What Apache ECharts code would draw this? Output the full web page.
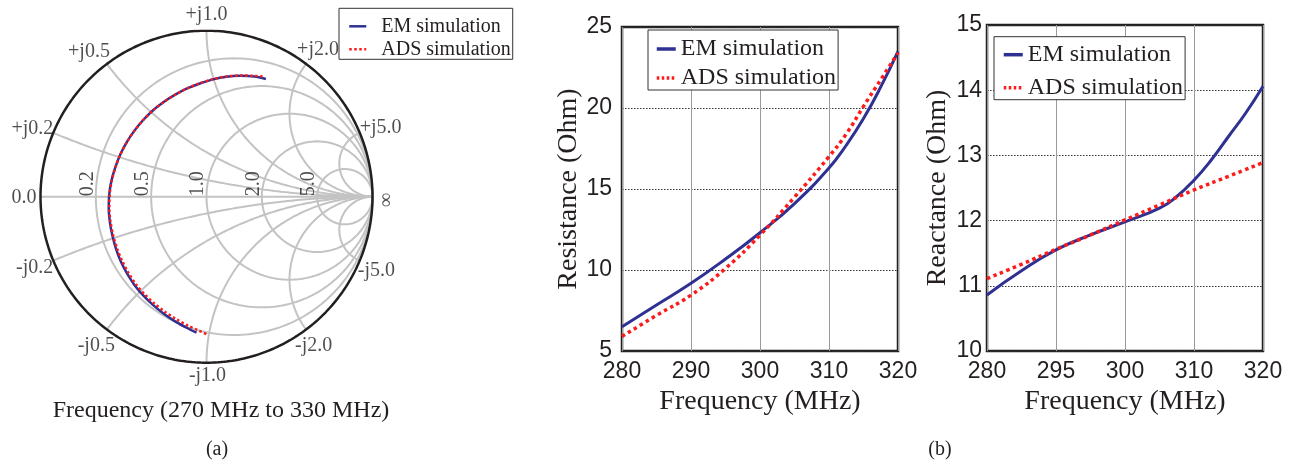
<!DOCTYPE html>
<html><head><meta charset="utf-8">
<script src="https://cdn.jsdelivr.net/npm/echarts@6/dist/echarts.min.js"></script>
<style>html,body{margin:0;padding:0;background:#fff}#c{width:1294px;height:466px}</style>
</head><body><div id="c"></div>
<script>
// ---------- DATA ----------
const seriesNames = ['EM simulation', 'ADS simulation'];

// Smith chart grid values (normalized)
const smithR = [0.2, 0.5, 1.0, 2.0, 5.0];
const smithRLabels = ['0.2', '0.5', '1.0', '2.0', '5.0'];
const smithX = [0.2, 0.5, 1.0, 2.0, 5.0];
const smithXPosLabels = ['+j0.2', '+j0.5', '+j1.0', '+j2.0', '+j5.0'];
const smithXNegLabels = ['-j0.2', '-j0.5', '-j1.0', '-j2.0', '-j5.0'];

const smithEMre = [0.358, 0.287, 0.204, 0.121, 0.039, -0.040, -0.117, -0.191, -0.260, -0.325, -0.384, -0.436, -0.482, -0.520, -0.550,
                   -0.573, -0.586, -0.589, -0.582, -0.567, -0.545, -0.516, -0.478, -0.433, -0.380, -0.321, -0.257, -0.189, -0.117, -0.060];
const smithEMim = [0.709, 0.724, 0.728, 0.723, 0.707, 0.682, 0.652, 0.613, 0.569, 0.518, 0.459, 0.395, 0.326, 0.253, 0.175,
                   0.095, 0.013, -0.070, -0.153, -0.234, -0.314, -0.391, -0.464, -0.533, -0.596, -0.653, -0.705, -0.751, -0.791, -0.819];
const smithADSre = [0.338, 0.288, 0.204, 0.121, 0.039, -0.041, -0.117, -0.191, -0.260, -0.325, -0.384, -0.436, -0.481, -0.520, -0.549,
                    -0.571, -0.583, -0.585, -0.578, -0.562, -0.539, -0.508, -0.470, -0.425, -0.372, -0.313, -0.249, -0.182, -0.111, -0.057, 0.011];
const smithADSim = [0.724, 0.728, 0.730, 0.724, 0.708, 0.683, 0.652, 0.613, 0.569, 0.518, 0.459, 0.395, 0.326, 0.252, 0.175,
                    0.095, 0.013, -0.070, -0.152, -0.233, -0.311, -0.387, -0.459, -0.527, -0.589, -0.644, -0.694, -0.738, -0.777, -0.802, -0.833];

// Resistance (Ohm) vs frequency (MHz)
const resFreq   = [280, 285, 290, 295, 300, 305, 310, 312.5, 315, 317.5, 320];
const resEM     = [6.5, 7.84, 9.18, 10.68, 12.3, 14.1, 16.3, 17.7, 19.35, 21.3, 23.5];
const resADS    = [5.9, 7.2, 8.45, 10.1, 12.15, 14.5, 17.0, 18.4, 20.1, 21.75, 23.4];
const resXTicks = ['280', '290', '300', '310', '320'];

// Reactance (Ohm) vs frequency (MHz)
const reaFreqEM  = [280, 285, 290, 295, 300, 305, 307.5, 310, 312.5, 315, 317.5, 320];
const reaEM      = [10.86, 11.23, 11.55, 11.78, 11.98, 12.19, 12.37, 12.62, 12.93, 13.29, 13.65, 14.06];
const reaFreqADS = [280, 285, 290, 295, 300, 305, 310, 315, 320];
const reaADS     = [11.11, 11.33, 11.56, 11.78, 12.01, 12.24, 12.47, 12.68, 12.89];
const reaXTicks  = ['280', '295', '300', '310', '320'];

// ---------- STYLE ----------
const SERIF = 'Liberation Serif';
const SANS = 'Liberation Sans';
const TXT = '#231f20';
const BLUE = '#2e3192';
const RED = '#ff1a1a';
const GRIDGRAY = '#c3c3c3';

// ---------- HELPERS ----------
function arc(cx, cy, rad, a0, a1, n) {
  const pts = [];
  for (let i = 0; i <= n; i++) {
    const a = a0 + (a1 - a0) * i / n;
    pts.push([cx + rad * Math.cos(a), cy + rad * Math.sin(a)]);
  }
  return pts;
}
function zip(a, b) { return a.map((v, i) => [v, b[i]]); }

const series = [];
// constant-resistance circles
smithR.forEach(r => {
  series.push({type: 'line', xAxisIndex: 0, yAxisIndex: 0, silent: true, symbol: 'none', animation: false, z: 1,
    data: arc(r / (1 + r), 0, 1 / (1 + r), 0, 2 * Math.PI, 240),
    lineStyle: {color: GRIDGRAY, width: 2}});
});
// constant-reactance arcs
smithX.forEach(x => {
  [1, -1].forEach(s => {
    const pts = arc(1, 1 / x, 1 / x, -Math.PI / 2, -Math.PI / 2 - 2 * Math.atan(x), 200).map(p => [p[0], s * p[1]]);
    series.push({type: 'line', xAxisIndex: 0, yAxisIndex: 0, silent: true, symbol: 'none', animation: false, z: 1,
      data: pts, lineStyle: {color: GRIDGRAY, width: 2}});
  });
});
// real axis
series.push({type: 'line', xAxisIndex: 0, yAxisIndex: 0, silent: true, symbol: 'none', animation: false, z: 1,
  data: [[-1, 0], [1, 0]], lineStyle: {color: GRIDGRAY, width: 2}});
// outer circle
series.push({type: 'line', xAxisIndex: 0, yAxisIndex: 0, silent: true, symbol: 'none', animation: false, z: 2,
  data: arc(0, 0, 1, 0, 2 * Math.PI, 360), lineStyle: {color: TXT, width: 2.5}});

// Smith labels
const labelFont = {fontFamily: SERIF, fontSize: 20, color: TXT};
const xPosLayout = [
  {align: 'right', verticalAlign: 'middle', offset: [0, -4]},
  {align: 'right', verticalAlign: 'middle', offset: [3, -12]},
  {align: 'center', verticalAlign: 'middle', offset: [0, -16]},
  {align: 'left', verticalAlign: 'middle', offset: [-9, -14]},
  {align: 'left', verticalAlign: 'middle', offset: [0, -5]}
];
const xNegLayout = [
  {align: 'right', verticalAlign: 'middle', offset: [0, 7]},
  {align: 'right', verticalAlign: 'middle', offset: [8, 16]},
  {align: 'center', verticalAlign: 'middle', offset: [1, 13]},
  {align: 'left', verticalAlign: 'middle', offset: [-11, 16]},
  {align: 'left', verticalAlign: 'middle', offset: [-2, 10]}
];
const lblData = [];
smithX.forEach((x, i) => {
  const gr = (x * x - 1) / (x * x + 1), gi = 2 * x / (x * x + 1);
  lblData.push({value: [gr, gi], label: Object.assign({formatter: smithXPosLabels[i]}, xPosLayout[i])});
  lblData.push({value: [gr, -gi], label: Object.assign({formatter: smithXNegLabels[i]}, xNegLayout[i])});
});
// rotated labels: offset is given in the label's rotated frame
smithR.forEach((r, i) => {
  lblData.push({value: [(r - 1) / (r + 1), 0], label: {formatter: smithRLabels[i], rotate: 90, align: 'center', verticalAlign: 'middle', offset: [13, -8.5]}});
});
lblData.push({value: [-1, 0], label: {formatter: '0.0', align: 'right', verticalAlign: 'middle', offset: [-4, 1]}});
lblData.push({value: [1, 0], label: {formatter: '\u221e', rotate: 90, align: 'center', verticalAlign: 'middle', offset: [-3.5, 14.5]}});
series.push({type: 'scatter', xAxisIndex: 0, yAxisIndex: 0, silent: true, animation: false, symbolSize: 0, z: 5,
  label: Object.assign({show: true, position: 'inside'}, labelFont), data: lblData});

// Smith traces
series.push({name: seriesNames[0], type: 'line', xAxisIndex: 0, yAxisIndex: 0, smooth: 0.3, symbol: 'none', animation: false, z: 6,
  data: zip(smithEMre, smithEMim), lineStyle: {color: BLUE, width: 2.5}, itemStyle: {color: BLUE}});
series.push({name: seriesNames[1], type: 'line', xAxisIndex: 0, yAxisIndex: 0, smooth: 0.3, symbol: 'none', animation: false, z: 7,
  data: zip(smithADSre, smithADSim), lineStyle: {color: RED, width: 2.5, type: [2.5, 2.5]}, itemStyle: {color: RED}});

// Resistance
series.push({name: seriesNames[0], type: 'line', xAxisIndex: 1, yAxisIndex: 1, smooth: true, symbol: 'none', animation: false, z: 6,
  data: zip(resFreq, resEM), lineStyle: {color: BLUE, width: 3}, itemStyle: {color: BLUE}});
series.push({name: seriesNames[1], type: 'line', xAxisIndex: 1, yAxisIndex: 1, smooth: true, symbol: 'none', animation: false, z: 7,
  data: zip(resFreq, resADS), lineStyle: {color: RED, width: 3.5, type: [3.5, 3.5]}, itemStyle: {color: RED}});
// Reactance
series.push({name: seriesNames[0], type: 'line', xAxisIndex: 2, yAxisIndex: 2, smooth: true, symbol: 'none', animation: false, z: 6,
  data: zip(reaFreqEM, reaEM), lineStyle: {color: BLUE, width: 3}, itemStyle: {color: BLUE}});
series.push({name: seriesNames[1], type: 'line', xAxisIndex: 2, yAxisIndex: 2, smooth: true, symbol: 'none', animation: false, z: 7,
  data: zip(reaFreqADS, reaADS), lineStyle: {color: RED, width: 3.5, type: [3.5, 3.5]}, itemStyle: {color: RED}});

const axisLabelY = {fontFamily: SANS, fontSize: 23, color: TXT};
const nameStyle = {fontFamily: SERIF, fontSize: 28, color: TXT};
function xAxisRect(gi, ticks) {
  return {type: 'value', gridIndex: gi, min: 280, max: 320, interval: 10,
    axisLine: {show: false}, axisTick: {show: false},
    axisLabel: {fontFamily: SANS, fontSize: 23, color: TXT, margin: 9, formatter: v => ticks[Math.round((v - 280) / 10)]},
    splitLine: {show: true, lineStyle: {color: '#9a9a9a', width: 1}},
    name: 'Frequency (MHz)', nameLocation: 'middle', nameGap: 31, nameTextStyle: nameStyle};
}
function yAxisRect(gi, min, max, interval, name, margin, gap) {
  return {type: 'value', gridIndex: gi, min: min, max: max, interval: interval,
    axisLine: {show: false}, axisTick: {show: false},
    axisLabel: Object.assign({margin: margin}, axisLabelY),
    splitLine: {show: true, lineStyle: {color: '#333', width: 1, type: [1.5, 1.5]}},
    name: name, nameLocation: 'middle', nameRotate: 90, nameGap: gap, nameTextStyle: nameStyle};
}
function legendAt(left, top, fs, gap, pad, iw, textPad, lw) {
  return {data: seriesNames, orient: 'vertical', left: left, top: top, itemWidth: iw, itemHeight: 8, itemGap: gap,
    padding: pad, backgroundColor: '#fff', borderColor: '#333', borderWidth: 1, borderRadius: 0, selectedMode: false,
    itemStyle: {opacity: 0}, lineStyle: {width: lw},
    textStyle: {fontFamily: SERIF, fontSize: fs, color: TXT, padding: textPad}, z: 10};
}

const option = {
  animation: false,
  backgroundColor: '#fff',
  grid: [
    {left: 40.5, top: 30.7, width: 332, height: 332, show: false},
    {left: 622, top: 27, width: 276, height: 324, show: true, borderColor: TXT, borderWidth: 2.5, backgroundColor: 'transparent'},
    {left: 987, top: 25, width: 276, height: 326, show: true, borderColor: TXT, borderWidth: 2.5, backgroundColor: 'transparent'}
  ],
  xAxis: [
    {type: 'value', gridIndex: 0, min: -1, max: 1, show: false},
    xAxisRect(1, resXTicks),
    xAxisRect(2, reaXTicks)
  ],
  yAxis: [
    {type: 'value', gridIndex: 0, min: -1, max: 1, show: false},
    yAxisRect(1, 5, 25, 5, 'Resistance (Ohm)', 10, 36),
    yAxisRect(2, 10, 15, 1, 'Reactance (Ohm)', 5, 35)
  ],
  legend: [
    legendAt(339, 8.3, 20, 3, [8, 2, 0, 9], 17, [0, 0, 0, 10], 2.5),
    legendAt(648, 30, 24, 5, [7, 2, 0, 7], 19, 0, 3.5),
    legendAt(994, 36.7, 24, 9, [6, 2, 0, 8], 19, 0, 3.5)
  ],
  title: [
    {text: 'Frequency (270 MHz to 330 MHz)', left: 221, top: 399, textAlign: 'center', padding: 0,
      textStyle: {fontFamily: SERIF, fontSize: 24, fontWeight: 'normal', color: TXT}},
    {text: '(a)', left: 217, top: 440, textAlign: 'center', padding: 0,
      textStyle: {fontFamily: SERIF, fontSize: 20, fontWeight: 'normal', color: TXT}},
    {text: '(b)', left: 940, top: 440, textAlign: 'center', padding: 0,
      textStyle: {fontFamily: SERIF, fontSize: 20, fontWeight: 'normal', color: TXT}}
  ],
  series: series
};
const chart = echarts.init(document.getElementById('c'), null, {renderer: 'canvas'});
chart.setOption(option);
</script>
</body></html>
